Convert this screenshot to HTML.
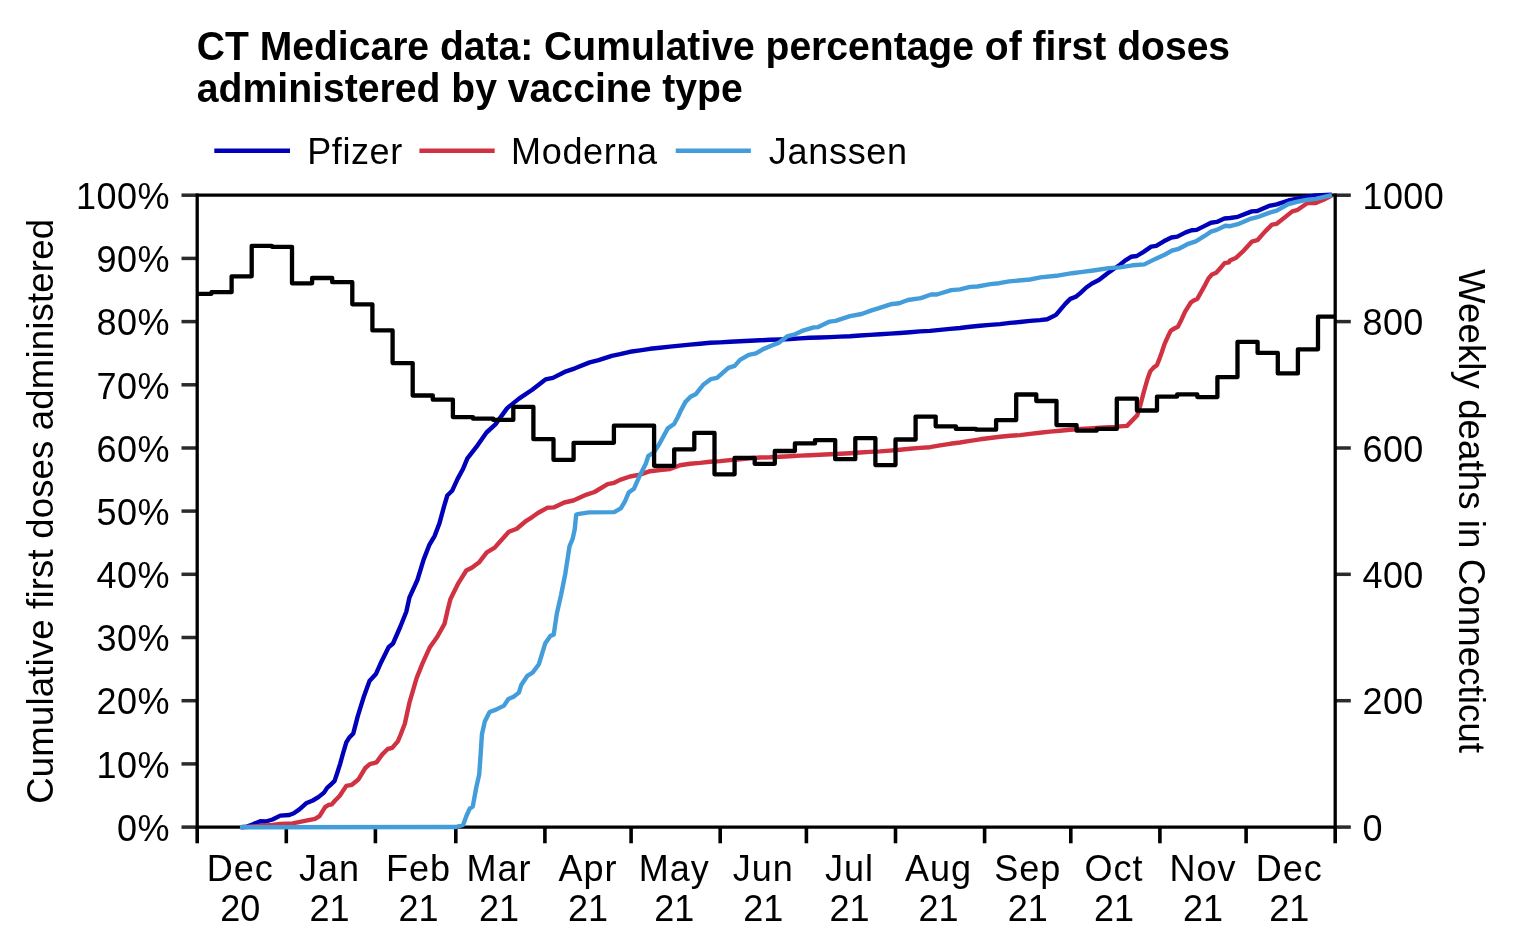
<!DOCTYPE html>
<html><head><meta charset="utf-8"><title>CT Medicare data</title>
<style>html,body{margin:0;padding:0;background:#fff;width:1520px;height:950px;overflow:hidden}body{position:relative}</style>
</head><body>
<svg width="1520" height="950" viewBox="0 0 1520 950" style="position:absolute;left:0;top:0;will-change:transform">
<rect width="1520" height="950" fill="#fff"/>
<text x="196.8" y="59.9" textLength="1033.3" lengthAdjust="spacingAndGlyphs" style="font-family:'Liberation Sans',sans-serif;font-weight:bold;font-size:40.5px" fill="#000">CT Medicare data: Cumulative percentage of first doses</text>
<text x="196.8" y="101.9" textLength="546" lengthAdjust="spacingAndGlyphs" style="font-family:'Liberation Sans',sans-serif;font-weight:bold;font-size:40.5px" fill="#000">administered by vaccine type</text>
<line x1="214.3" y1="150.8" x2="290" y2="150.8" stroke="#0000bb" stroke-width="4.4"/>
<line x1="419.4" y1="150.8" x2="494.7" y2="150.8" stroke="#d03242" stroke-width="4.4"/>
<line x1="675.7" y1="150.8" x2="750.9" y2="150.8" stroke="#449ddb" stroke-width="4.4"/>
<text x="307.2" y="164" style="font-family:'Liberation Sans',sans-serif;font-size:36px;letter-spacing:0.6px" fill="#000">Pfizer</text>
<text x="511.1" y="164" style="font-family:'Liberation Sans',sans-serif;font-size:36px;letter-spacing:0.65px" fill="#000">Moderna</text>
<text x="768.8" y="164" style="font-family:'Liberation Sans',sans-serif;font-size:36px;letter-spacing:0.7px" fill="#000">Janssen</text>
<text x="170" y="840.8" text-anchor="end" style="font-family:'Liberation Sans',sans-serif;font-size:36px;letter-spacing:0.5px" fill="#000">0%</text>
<line x1="181.5" y1="827.1" x2="197.2" y2="827.1" stroke="#2b2b2b" stroke-width="3.5"/>
<text x="170" y="777.6" text-anchor="end" style="font-family:'Liberation Sans',sans-serif;font-size:36px;letter-spacing:0.5px" fill="#000">10%</text>
<line x1="181.5" y1="763.9" x2="197.2" y2="763.9" stroke="#2b2b2b" stroke-width="3.5"/>
<text x="170" y="714.4" text-anchor="end" style="font-family:'Liberation Sans',sans-serif;font-size:36px;letter-spacing:0.5px" fill="#000">20%</text>
<line x1="181.5" y1="700.7" x2="197.2" y2="700.7" stroke="#2b2b2b" stroke-width="3.5"/>
<text x="170" y="651.2" text-anchor="end" style="font-family:'Liberation Sans',sans-serif;font-size:36px;letter-spacing:0.5px" fill="#000">30%</text>
<line x1="181.5" y1="637.5" x2="197.2" y2="637.5" stroke="#2b2b2b" stroke-width="3.5"/>
<text x="170" y="588.0" text-anchor="end" style="font-family:'Liberation Sans',sans-serif;font-size:36px;letter-spacing:0.5px" fill="#000">40%</text>
<line x1="181.5" y1="574.3" x2="197.2" y2="574.3" stroke="#2b2b2b" stroke-width="3.5"/>
<text x="170" y="524.9" text-anchor="end" style="font-family:'Liberation Sans',sans-serif;font-size:36px;letter-spacing:0.5px" fill="#000">50%</text>
<line x1="181.5" y1="511.1" x2="197.2" y2="511.1" stroke="#2b2b2b" stroke-width="3.5"/>
<text x="170" y="461.7" text-anchor="end" style="font-family:'Liberation Sans',sans-serif;font-size:36px;letter-spacing:0.5px" fill="#000">60%</text>
<line x1="181.5" y1="448.0" x2="197.2" y2="448.0" stroke="#2b2b2b" stroke-width="3.5"/>
<text x="170" y="398.5" text-anchor="end" style="font-family:'Liberation Sans',sans-serif;font-size:36px;letter-spacing:0.5px" fill="#000">70%</text>
<line x1="181.5" y1="384.8" x2="197.2" y2="384.8" stroke="#2b2b2b" stroke-width="3.5"/>
<text x="170" y="335.3" text-anchor="end" style="font-family:'Liberation Sans',sans-serif;font-size:36px;letter-spacing:0.5px" fill="#000">80%</text>
<line x1="181.5" y1="321.6" x2="197.2" y2="321.6" stroke="#2b2b2b" stroke-width="3.5"/>
<text x="170" y="272.1" text-anchor="end" style="font-family:'Liberation Sans',sans-serif;font-size:36px;letter-spacing:0.5px" fill="#000">90%</text>
<line x1="181.5" y1="258.4" x2="197.2" y2="258.4" stroke="#2b2b2b" stroke-width="3.5"/>
<text x="170" y="208.9" text-anchor="end" style="font-family:'Liberation Sans',sans-serif;font-size:36px;letter-spacing:0.5px" fill="#000">100%</text>
<line x1="181.5" y1="195.2" x2="197.2" y2="195.2" stroke="#2b2b2b" stroke-width="3.5"/>
<text x="1362.5" y="840.8" style="font-family:'Liberation Sans',sans-serif;font-size:36px;letter-spacing:0.4px" fill="#000">0</text>
<line x1="1335.2" y1="827.1" x2="1350.8" y2="827.1" stroke="#2b2b2b" stroke-width="3.5"/>
<text x="1362.5" y="714.4" style="font-family:'Liberation Sans',sans-serif;font-size:36px;letter-spacing:0.4px" fill="#000">200</text>
<line x1="1335.2" y1="700.7" x2="1350.8" y2="700.7" stroke="#2b2b2b" stroke-width="3.5"/>
<text x="1362.5" y="588.0" style="font-family:'Liberation Sans',sans-serif;font-size:36px;letter-spacing:0.4px" fill="#000">400</text>
<line x1="1335.2" y1="574.3" x2="1350.8" y2="574.3" stroke="#2b2b2b" stroke-width="3.5"/>
<text x="1362.5" y="461.7" style="font-family:'Liberation Sans',sans-serif;font-size:36px;letter-spacing:0.4px" fill="#000">600</text>
<line x1="1335.2" y1="448.0" x2="1350.8" y2="448.0" stroke="#2b2b2b" stroke-width="3.5"/>
<text x="1362.5" y="335.3" style="font-family:'Liberation Sans',sans-serif;font-size:36px;letter-spacing:0.4px" fill="#000">800</text>
<line x1="1335.2" y1="321.6" x2="1350.8" y2="321.6" stroke="#2b2b2b" stroke-width="3.5"/>
<text x="1362.5" y="208.9" style="font-family:'Liberation Sans',sans-serif;font-size:36px;letter-spacing:0.4px" fill="#000">1000</text>
<line x1="1335.2" y1="195.2" x2="1350.8" y2="195.2" stroke="#2b2b2b" stroke-width="3.5"/>
<line x1="197.2" y1="827.1" x2="197.2" y2="843.3" stroke="#000" stroke-width="3.6"/>
<line x1="286.3" y1="827.1" x2="286.3" y2="843.3" stroke="#000" stroke-width="3.6"/>
<line x1="375.4" y1="827.1" x2="375.4" y2="843.3" stroke="#000" stroke-width="3.6"/>
<line x1="455.8" y1="827.1" x2="455.8" y2="843.3" stroke="#000" stroke-width="3.6"/>
<line x1="544.9" y1="827.1" x2="544.9" y2="843.3" stroke="#000" stroke-width="3.6"/>
<line x1="631.1" y1="827.1" x2="631.1" y2="843.3" stroke="#000" stroke-width="3.6"/>
<line x1="720.2" y1="827.1" x2="720.2" y2="843.3" stroke="#000" stroke-width="3.6"/>
<line x1="806.4" y1="827.1" x2="806.4" y2="843.3" stroke="#000" stroke-width="3.6"/>
<line x1="895.5" y1="827.1" x2="895.5" y2="843.3" stroke="#000" stroke-width="3.6"/>
<line x1="984.6" y1="827.1" x2="984.6" y2="843.3" stroke="#000" stroke-width="3.6"/>
<line x1="1070.8" y1="827.1" x2="1070.8" y2="843.3" stroke="#000" stroke-width="3.6"/>
<line x1="1159.9" y1="827.1" x2="1159.9" y2="843.3" stroke="#000" stroke-width="3.6"/>
<line x1="1246.1" y1="827.1" x2="1246.1" y2="843.3" stroke="#000" stroke-width="3.6"/>
<line x1="1335.2" y1="827.1" x2="1335.2" y2="843.3" stroke="#000" stroke-width="3.6"/>
<text x="240.3" y="881" text-anchor="middle" style="font-family:'Liberation Sans',sans-serif;font-size:36px;letter-spacing:1px" fill="#000">Dec</text>
<text x="240.3" y="920.9" text-anchor="middle" style="font-family:'Liberation Sans',sans-serif;font-size:36px" fill="#000">20</text>
<text x="329.4" y="881" text-anchor="middle" style="font-family:'Liberation Sans',sans-serif;font-size:36px;letter-spacing:1px" fill="#000">Jan</text>
<text x="329.4" y="920.9" text-anchor="middle" style="font-family:'Liberation Sans',sans-serif;font-size:36px" fill="#000">21</text>
<text x="418.5" y="881" text-anchor="middle" style="font-family:'Liberation Sans',sans-serif;font-size:36px;letter-spacing:1px" fill="#000">Feb</text>
<text x="418.5" y="920.9" text-anchor="middle" style="font-family:'Liberation Sans',sans-serif;font-size:36px" fill="#000">21</text>
<text x="498.9" y="881" text-anchor="middle" style="font-family:'Liberation Sans',sans-serif;font-size:36px;letter-spacing:1px" fill="#000">Mar</text>
<text x="498.9" y="920.9" text-anchor="middle" style="font-family:'Liberation Sans',sans-serif;font-size:36px" fill="#000">21</text>
<text x="588.0" y="881" text-anchor="middle" style="font-family:'Liberation Sans',sans-serif;font-size:36px;letter-spacing:1px" fill="#000">Apr</text>
<text x="588.0" y="920.9" text-anchor="middle" style="font-family:'Liberation Sans',sans-serif;font-size:36px" fill="#000">21</text>
<text x="674.2" y="881" text-anchor="middle" style="font-family:'Liberation Sans',sans-serif;font-size:36px;letter-spacing:1px" fill="#000">May</text>
<text x="674.2" y="920.9" text-anchor="middle" style="font-family:'Liberation Sans',sans-serif;font-size:36px" fill="#000">21</text>
<text x="763.3" y="881" text-anchor="middle" style="font-family:'Liberation Sans',sans-serif;font-size:36px;letter-spacing:1px" fill="#000">Jun</text>
<text x="763.3" y="920.9" text-anchor="middle" style="font-family:'Liberation Sans',sans-serif;font-size:36px" fill="#000">21</text>
<text x="849.5" y="881" text-anchor="middle" style="font-family:'Liberation Sans',sans-serif;font-size:36px;letter-spacing:1px" fill="#000">Jul</text>
<text x="849.5" y="920.9" text-anchor="middle" style="font-family:'Liberation Sans',sans-serif;font-size:36px" fill="#000">21</text>
<text x="938.6" y="881" text-anchor="middle" style="font-family:'Liberation Sans',sans-serif;font-size:36px;letter-spacing:1px" fill="#000">Aug</text>
<text x="938.6" y="920.9" text-anchor="middle" style="font-family:'Liberation Sans',sans-serif;font-size:36px" fill="#000">21</text>
<text x="1027.7" y="881" text-anchor="middle" style="font-family:'Liberation Sans',sans-serif;font-size:36px;letter-spacing:1px" fill="#000">Sep</text>
<text x="1027.7" y="920.9" text-anchor="middle" style="font-family:'Liberation Sans',sans-serif;font-size:36px" fill="#000">21</text>
<text x="1113.9" y="881" text-anchor="middle" style="font-family:'Liberation Sans',sans-serif;font-size:36px;letter-spacing:1px" fill="#000">Oct</text>
<text x="1113.9" y="920.9" text-anchor="middle" style="font-family:'Liberation Sans',sans-serif;font-size:36px" fill="#000">21</text>
<text x="1203.0" y="881" text-anchor="middle" style="font-family:'Liberation Sans',sans-serif;font-size:36px;letter-spacing:1px" fill="#000">Nov</text>
<text x="1203.0" y="920.9" text-anchor="middle" style="font-family:'Liberation Sans',sans-serif;font-size:36px" fill="#000">21</text>
<text x="1289.2" y="881" text-anchor="middle" style="font-family:'Liberation Sans',sans-serif;font-size:36px;letter-spacing:1px" fill="#000">Dec</text>
<text x="1289.2" y="920.9" text-anchor="middle" style="font-family:'Liberation Sans',sans-serif;font-size:36px" fill="#000">21</text>
<text transform="translate(53,511.3) rotate(-90)" text-anchor="middle" style="font-family:'Liberation Sans',sans-serif;font-size:36.6px;letter-spacing:0.16px" fill="#000">Cumulative first doses administered</text>
<text transform="translate(1459.2,511) rotate(90)" text-anchor="middle" style="font-family:'Liberation Sans',sans-serif;font-size:36.8px" fill="#000">Weekly deaths in Connecticut</text>
<line x1="197.2" y1="195.2" x2="1335.2" y2="195.2" stroke="#000" stroke-width="3.3"/>
<line x1="197.2" y1="827.1" x2="1335.2" y2="827.1" stroke="#000" stroke-width="3.3"/>
<line x1="197.2" y1="193.6" x2="197.2" y2="828.7" stroke="#000" stroke-width="3.3"/>
<line x1="1335.2" y1="193.6" x2="1335.2" y2="828.7" stroke="#000" stroke-width="3.3"/>
<polyline points="240.6,827.2 247.0,826.6 252.4,824.5 260.2,821.2 265.8,821.5 272.5,819.5 280.3,815.6 289.3,815.0 293.8,813.3 299.4,809.4 306.1,803.3 312.8,800.5 318.4,797.1 324.0,792.6 327.3,787.6 330.7,784.8 334.6,780.9 337.4,772.5 340.2,763.6 343.0,753.5 346.3,742.3 349.1,737.8 353.3,733.4 357.7,716.4 363.6,697.3 369.5,681.0 376.1,673.7 381.3,661.9 388.6,647.2 393.0,643.5 400.4,626.5 406.3,611.8 409.5,597.3 417.4,580.0 423.7,559.4 429.2,545.2 434.7,535.8 439.5,523.1 444.2,505.8 447.3,495.5 452.1,490.8 457.6,478.9 463.1,468.7 467.4,458.3 476.2,447.2 486.5,432.5 495.4,424.4 507.2,408.1 519.0,398.6 532.2,389.7 545.5,379.4 552.9,377.9 566.1,371.3 575.0,368.3 589.7,362.4 598.6,360.2 611.8,355.8 620.0,354.2 630.0,351.8 640.0,350.4 650.0,348.8 660.0,347.8 670.0,346.6 680.0,345.6 690.0,344.6 700.0,343.7 710.0,342.8 720.0,342.4 730.0,341.8 740.0,341.2 750.0,340.7 760.0,340.3 770.0,339.8 780.0,339.5 790.0,339.0 800.0,338.4 810.0,337.8 820.0,337.5 830.0,337.1 840.0,336.6 850.0,336.2 860.0,335.5 870.0,334.9 880.0,334.3 890.0,333.6 900.0,333.0 910.0,332.3 920.0,331.4 930.0,330.9 940.0,329.9 950.0,328.9 960.0,328.0 970.0,326.7 980.0,325.7 990.0,324.9 1000.0,324.1 1010.0,322.9 1020.0,322.0 1030.0,320.9 1040.0,320.1 1047.2,319.3 1056.0,314.9 1059.8,310.3 1065.3,303.9 1070.3,298.9 1075.8,296.8 1080.0,293.4 1086.3,287.5 1092.0,283.5 1098.9,280.0 1107.6,273.3 1113.6,269.0 1120.0,264.8 1125.0,260.6 1131.0,256.8 1136.8,256.0 1143.6,251.8 1151.2,246.7 1156.2,245.9 1163.8,241.3 1171.4,237.5 1177.3,236.6 1185.7,232.4 1191.6,230.3 1196.6,229.9 1204.2,226.1 1211.0,222.7 1216.8,221.9 1224.4,218.5 1230.0,218.0 1237.8,216.8 1251.8,211.4 1257.3,211.0 1268.9,205.9 1276.7,204.4 1288.4,200.5 1296.2,198.9 1307.9,196.6 1315.7,195.4 1331.8,194.6" fill="none" stroke="#0000bb" stroke-width="4.4" stroke-linejoin="round"/>
<polyline points="242.0,827.2 272.5,825.0 280.3,824.0 292.6,823.4 306.1,820.6 315.0,818.9 319.5,816.1 325.1,807.2 328.4,805.0 331.8,804.4 335.1,800.5 339.6,796.0 346.3,785.9 351.9,784.8 358.6,779.2 365.3,768.0 369.8,764.1 376.5,762.4 382.1,754.6 387.7,749.0 392.2,747.9 397.8,741.3 400.5,735.0 404.8,723.8 409.3,703.2 416.6,678.1 422.5,663.4 429.9,647.2 437.3,636.8 444.6,623.6 447.6,610.3 450.5,598.9 458.4,583.1 466.3,570.5 471.8,567.8 478.9,562.6 486.8,552.3 494.7,547.6 501.0,540.5 508.9,531.8 516.8,528.7 526.3,520.8 532.6,516.8 537.9,513.0 547.1,507.8 553.7,507.4 564.2,502.5 573.4,500.5 586.6,494.6 594.5,492.0 607.6,484.1 614.2,482.8 620.0,479.9 630.0,476.5 640.0,474.6 650.0,471.2 660.0,470.0 670.0,469.0 677.0,466.5 680.0,465.3 690.0,463.8 700.0,462.9 710.0,461.7 720.0,461.1 730.0,460.1 740.0,459.2 750.0,458.2 760.0,457.5 770.0,457.3 780.0,456.8 790.0,456.2 800.0,455.6 810.0,455.2 820.0,454.8 830.0,454.2 840.0,453.8 850.0,453.2 860.0,452.5 870.0,451.9 880.0,451.4 890.0,450.6 900.0,449.8 910.0,448.8 920.0,447.9 930.0,447.2 940.0,445.4 950.0,443.8 960.0,442.5 970.0,440.9 980.0,439.3 990.0,438.0 1000.0,436.8 1010.0,435.8 1020.0,435.1 1030.0,433.9 1040.0,432.7 1050.0,431.6 1060.0,430.8 1070.0,429.8 1080.0,429.0 1090.0,428.4 1100.0,427.8 1115.0,427.0 1120.0,426.4 1127.0,425.9 1137.2,415.4 1140.4,405.0 1143.9,391.6 1147.5,379.0 1150.2,371.4 1153.8,367.4 1156.9,365.2 1159.2,359.4 1161.8,352.2 1164.5,344.1 1168.1,336.1 1170.8,330.7 1174.4,328.5 1177.9,326.7 1180.7,321.3 1185.1,311.6 1191.0,302.3 1194.3,300.2 1197.3,298.9 1201.1,292.2 1205.3,284.6 1208.6,278.3 1212.0,274.5 1216.2,272.8 1219.6,269.0 1224.6,263.1 1228.9,262.3 1230.0,260.4 1236.2,257.7 1244.0,250.3 1251.8,241.7 1257.3,240.2 1265.0,231.6 1272.0,224.6 1276.7,223.8 1284.5,217.6 1292.3,211.4 1297.0,210.2 1307.9,202.8 1315.7,203.0 1323.5,199.7 1331.8,195.6" fill="none" stroke="#d03242" stroke-width="4.4" stroke-linejoin="round"/>
<polyline points="240.0,827.3 456.0,827.0 463.2,824.8 466.4,816.0 469.6,808.8 472.8,806.4 476.0,788.8 479.2,774.4 480.8,752.0 481.9,734.4 484.8,721.6 489.6,712.0 496.0,709.6 504.0,705.6 508.4,699.0 513.6,696.8 518.9,692.6 521.1,685.3 527.4,675.8 532.6,672.6 538.9,664.2 542.1,653.7 545.3,643.2 550.5,635.8 553.7,634.7 556.8,613.7 561.1,594.7 565.3,573.7 569.5,546.3 572.6,538.9 574.7,529.5 576.2,514.7 577.4,514.1 589.2,512.4 614.2,512.1 620.8,508.4 624.7,501.8 628.7,492.6 634.0,488.7 639.2,476.8 645.8,463.7 648.4,455.8 653.7,452.5 658.9,444.8 667.8,428.4 674.1,424.0 677.9,417.0 680.4,411.4 685.5,401.9 690.5,396.8 695.6,394.3 703.2,384.8 710.7,379.2 717.0,377.9 728.4,367.8 734.7,365.9 740.0,359.9 748.7,354.9 755.9,353.4 763.2,349.1 771.8,345.5 779.1,342.6 787.8,336.1 795.0,334.3 803.7,330.3 813.8,327.4 818.2,327.1 829.7,321.6 835.5,320.9 850.0,316.2 861.6,314.0 871.7,310.4 878.9,308.2 890.5,304.3 899.2,303.2 907.9,300.0 920.9,298.1 931.1,294.5 936.8,294.5 951.3,290.1 960.0,289.4 970.1,286.9 977.4,286.5 990.4,284.1 999.1,283.2 1009.2,281.4 1030.0,279.5 1040.5,277.4 1056.3,275.8 1072.1,273.2 1082.6,271.9 1093.2,270.5 1108.9,268.1 1120.0,267.4 1132.6,265.3 1144.4,264.4 1155.4,258.9 1164.6,254.7 1172.2,250.5 1178.9,248.8 1187.4,244.2 1195.8,241.3 1204.2,236.2 1211.0,231.6 1216.8,229.9 1225.3,225.7 1230.0,226.2 1237.8,224.2 1249.5,219.2 1257.3,217.2 1268.9,212.9 1276.7,210.6 1288.4,204.0 1296.2,202.0 1307.9,199.7 1315.7,198.9 1331.8,195.2" fill="none" stroke="#449ddb" stroke-width="4.4" stroke-linejoin="round"/>
<path d="M197.2,293.8 H211.5 V292.2 H231.6 V276.3 H251.7 V245.8 H271.9 V246.8 H292.0 V283.3 H312.1 V278.0 H332.2 V282.2 H352.3 V304.3 H372.4 V330.4 H392.6 V363.1 H412.7 V395.5 H432.8 V399.7 H452.9 V417.1 H473.0 V418.7 H493.2 V419.9 H513.3 V406.8 H533.4 V439.2 H553.5 V459.8 H573.6 V442.8 H593.7 V442.8 H613.9 V425.7 H634.0 V425.7 H654.1 V465.8 H674.2 V449.3 H694.3 V432.9 H714.5 V474.3 H734.6 V457.9 H754.7 V463.8 H774.8 V451.0 H794.9 V443.4 H815.0 V440.1 H835.2 V459.2 H855.3 V438.2 H875.4 V465.1 H895.5 V439.5 H915.6 V416.6 H935.7 V426.3 H955.9 V428.9 H976.0 V429.7 H996.1 V420.1 H1016.2 V394.5 H1036.3 V401.0 H1056.5 V425.1 H1076.6 V430.7 H1096.7 V428.9 H1116.8 V398.6 H1136.9 V410.5 H1157.0 V396.6 H1177.2 V394.3 H1197.3 V397.1 H1217.4 V377.1 H1237.5 V341.8 H1257.6 V352.9 H1277.8 V373.4 H1297.9 V349.3 H1318.0 V316.6 H1335.2" fill="none" stroke="#000" stroke-width="4.3" stroke-linejoin="round"/>
</svg>
</body></html>
